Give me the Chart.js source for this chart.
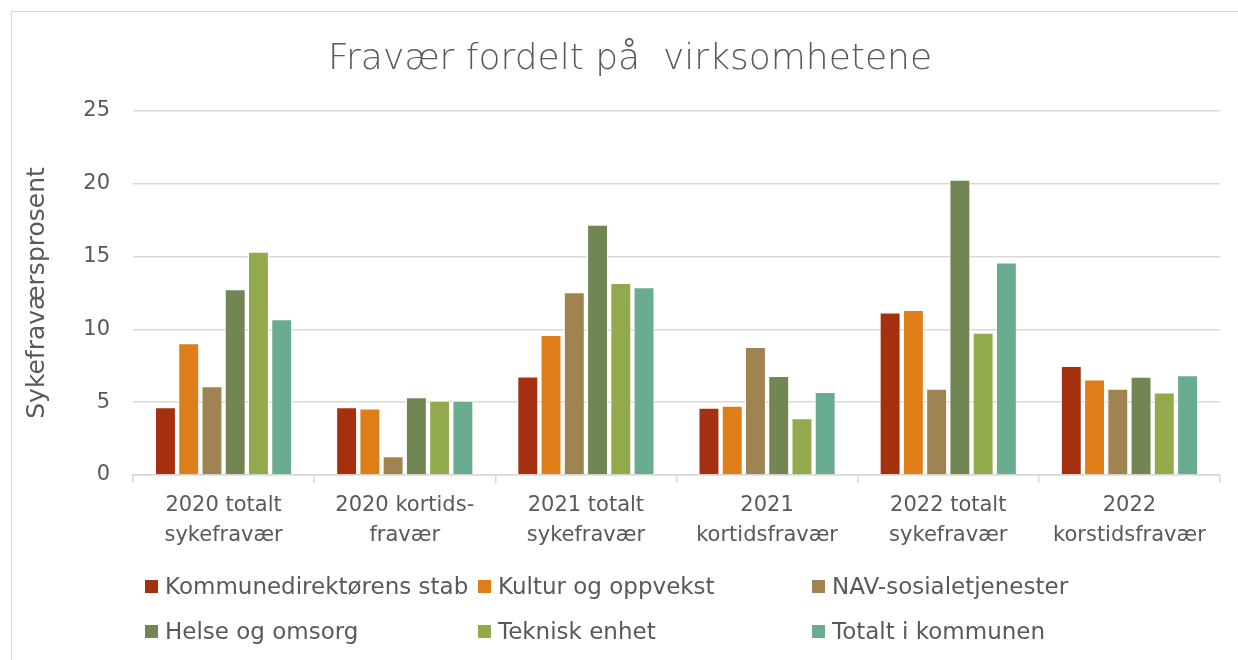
<!DOCTYPE html>
<html>
<head>
<meta charset="utf-8">
<script src="https://cdn.jsdelivr.net/npm/chart.js@4"></script>
<style>
  body { margin: 0; background: #fff; font-family: 'DejaVu Sans', sans-serif; }
  #frame { position: absolute; left: 11px; top: 11px; width: 1240px; height: 660px; border: 1.5px solid #d9d9d9; }
  #wrap { position: absolute; left: 0; top: 0; width: 1238px; height: 660px; }
  #legend { position: absolute; left: 0; top: 0; width: 1238px; height: 660px; pointer-events: none; }
  .item { position: absolute; display: flex; align-items: center; color: #595959; font-size: 23px; white-space: nowrap; }
  .box { width: 13px; height: 13px; margin-right: 7px; }
</style>
</head>
<body>
<div id="frame"></div>
<div id="wrap"><canvas id="chart" width="1238" height="660"></canvas></div>
<div id="legend"></div>
<script>
// Categories
const categories = [
    ['2020 totalt', 'sykefravær'],
    ['2020 kortids-', 'fravær'],
    ['2021 totalt', 'sykefravær'],
    ['2021', 'kortidsfravær'],
    ['2022 totalt', 'sykefravær'],
    ['2022', 'korstidsfravær']
];

// Series values
const stab      = [4.65, 4.65, 6.77, 4.61, 11.15, 7.48];
const kultur    = [9.05, 4.56, 9.61, 4.75, 11.33, 6.56];
const nav       = [6.09, 1.28, 12.55, 8.79, 5.92, 5.92];
const helse     = [12.75, 5.33, 17.18, 6.79, 20.28, 6.74];
const teknisk   = [15.34, 5.1, 13.19, 3.9, 9.77, 5.67];
const totalt    = [10.69, 5.1, 12.89, 5.69, 14.59, 6.84];

const seriesNames = ['Kommunedirektørens stab', 'Kultur og oppvekst', 'NAV-sosialetjenester',
    'Helse og omsorg', 'Teknisk enhet', 'Totalt i kommunen'];
const seriesColors = ['#a5300f', '#de7e18', '#9f8351', '#728653', '#92aa4c', '#6aac90'];
const yTicks = [0, 5, 10, 15, 20, 25];

const textColor = '#595959';
const gridColor = '#d9d9d9';
const fontFamily = "'DejaVu Sans', sans-serif";

const allSeries = [stab, kultur, nav, helse, teknisk, totalt];

// centre the title over the whole framed box, not just the plot
const titleShift = {
    id: 'titleShift',
    afterLayout(chart) {
        const t = chart.titleBlock;
        if (t) { t.left = 22; t.right = 1238; }
    }
};

const chart = new Chart(document.getElementById('chart').getContext('2d'), {
    type: 'bar',
    data: {
        labels: categories,
        datasets: allSeries.map((vals, i) => ({
            label: seriesNames[i],
            data: vals,
            backgroundColor: seriesColors[i],
            borderColor: '#ffffff',
            borderWidth: 1,
            categoryPercentage: 0.77,
            barPercentage: 0.9
        }))
    },
    plugins: [titleShift],
    options: {
        responsive: false,
        animation: false,
        layout: { padding: { left: 0, right: 18, top: 0, bottom: 101 } },
        plugins: {
            legend: { display: false },
            tooltip: { enabled: false },
            title: {
                display: true,
                text: 'Fravær fordelt på  virksomhetene',
                color: textColor,
                font: { family: fontFamily, size: 36, weight: 200, lineHeight: 1.2 },
                padding: { top: 38.5, bottom: 29.3 }
            }
        },
        scales: {
            x: {
                grid: {
                    display: true,
                    offset: true,
                    drawOnChartArea: false,
                    drawTicks: true,
                    tickLength: 8,
                    color: gridColor,
                    lineWidth: 1.5
                },
                border: { display: true, color: gridColor, width: 1.5 },
                ticks: {
                    color: textColor,
                    padding: 8,
                    maxRotation: 0,
                    autoSkip: false,
                    font: { family: fontFamily, size: 21, lineHeight: 1.43 }
                }
            },
            y: {
                min: 0,
                max: 25,
                afterFit: scale => { scale.width = 133; },
                afterBuildTicks: scale => { scale.ticks = yTicks.map(v => ({ value: v })); },
                grid: { color: gridColor, lineWidth: 1.5, drawTicks: false },
                border: { display: false },
                ticks: {
                    color: textColor,
                    padding: 23,
                    font: { family: fontFamily, size: 21 }
                },
                title: {
                    display: true,
                    text: 'Sykefraværsprosent',
                    color: textColor,
                    font: { family: fontFamily, size: 25, lineHeight: 1.2 },
                    padding: { top: 22, bottom: 0 }
                }
            }
        }
    }
});

// HTML legend in three columns, built from the datasets
const legendEl = document.getElementById('legend');
const colX = [145, 478, 812];
const rowY = [587, 632];
chart.data.datasets.forEach((ds, i) => {
    const item = document.createElement('div');
    item.className = 'item';
    item.style.left = colX[i % 3] + 'px';
    item.style.top = (rowY[Math.floor(i / 3)] - 14) + 'px';
    item.innerHTML = `<span class="box" style="background:${ds.backgroundColor}"></span>${ds.label}`;
    legendEl.appendChild(item);
});
</script>
</body>
</html>
